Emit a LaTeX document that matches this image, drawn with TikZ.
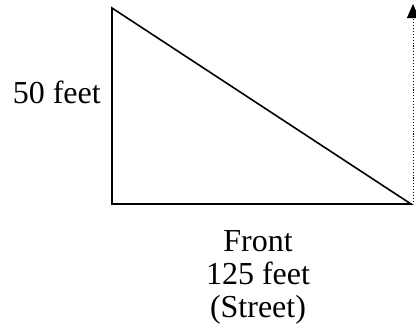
\documentclass[tikz,border=0pt]{standalone}
\usepackage{fontspec}
\setmainfont{Liberation Serif}
\usetikzlibrary{arrows.meta, positioning}
\tikzset{
  lot/.style={draw=black, line width=1.2pt, line join=miter},
  lbl/.style={font=\fontsize{24}{25}\selectfont, inner sep=0pt, align=center},
  dimarr/.style={-{Triangle[length=10.5pt, width=9pt]}, line width=0.7pt, dash pattern=on 0.8pt off 1.4pt}
}
\begin{document}
\begin{tikzpicture}[x=0.75pt, y=-0.75pt]
  \useasboundingbox (0,0) rectangle (416,330);
  \coordinate (top) at (112,8);
  \coordinate (corner) at (112,204);
  \coordinate (right) at (411,204);
  \coordinate (foot) at (413,202);
  \coordinate (tip) at (413,4);
  \draw[lot] (top) -- (corner) -- (right) -- cycle;
  \node[lbl, anchor=base east] (side) at (101,103) {50 feet};
  \node[lbl, anchor=north] (front) at (258,230) {Front\\125 feet\\(Street)};
  \draw[dimarr] (foot) -- (tip);
\end{tikzpicture}
\end{document}
